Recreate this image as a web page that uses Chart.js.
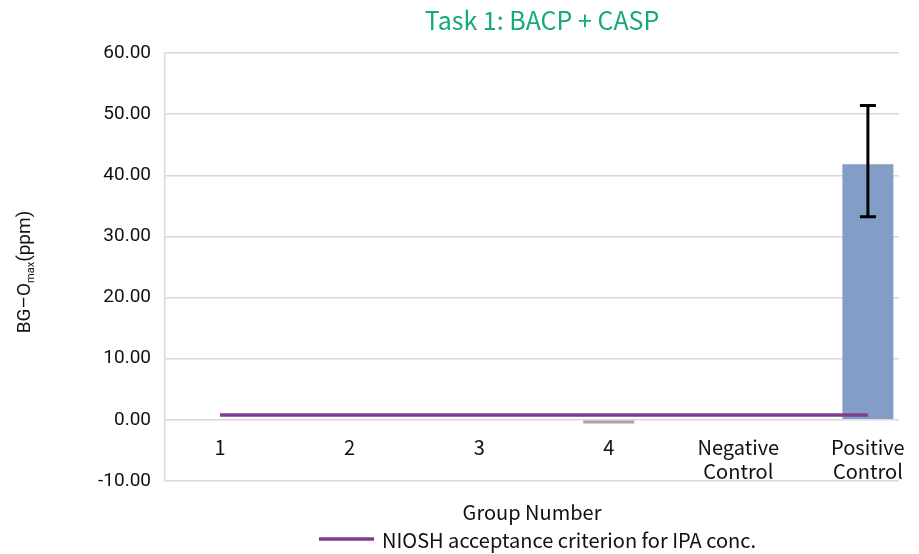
<!DOCTYPE html>
<html>
<head>
<meta charset="utf-8">
<script src="https://cdn.jsdelivr.net/npm/chart.js@4.4.1/dist/chart.umd.min.js"></script>
<style>
  html, body { margin: 0; padding: 0; background: #fff; overflow: hidden; }
  #wrap { width: 919px; height: 554px; }
</style>
</head>
<body>
<div id="wrap"><canvas id="task-chart"></canvas></div>
<script>
// data
const groupLabels = ['1', '2', '3', '4', ['Negative', 'Control'], ['Positive', 'Control']];
const groupX = [1, 2, 3, 4, 5, 6];
const meanValues = [0, 0, 0, -0.6, 0, 41.8];
const errorPlus = [0, 0, 0, 0, 0, 9.6];
const errorMinus = [0, 0, 0, 0, 0, 8.6];
const nioshLimit = [0.8, 0.8, 0.8, 0.8, 0.8, 0.8];
const yTicks = [-10, 0, 10, 20, 30, 40, 50, 60];

const PURPLE = '#7e3e90';
const GREEN = '#15aa7a';
const GRID = '#d9d9d9';
const LABEL_FONT = '"Noto Sans CJK KR", "Noto Sans", sans-serif';

// draws the error bars on top of the bars
const errorBars = {
  id: 'errorBars',
  afterDatasetsDraw(chart) {
    const { ctx, scales: { x, y } } = chart;
    ctx.save();
    ctx.strokeStyle = '#000';
    ctx.lineWidth = 3;
    groupX.forEach((gx, i) => {
      if (!errorPlus[i] && !errorMinus[i]) return;
      const px = x.getPixelForValue(gx);
      const top = y.getPixelForValue(meanValues[i] + errorPlus[i]);
      const bot = y.getPixelForValue(meanValues[i] - errorMinus[i]);
      ctx.beginPath();
      ctx.moveTo(px, top); ctx.lineTo(px, bot);
      ctx.moveTo(px - 8, top); ctx.lineTo(px + 8, top);
      ctx.moveTo(px - 8, bot); ctx.lineTo(px + 8, bot);
      ctx.stroke();
    });
    ctx.restore();
  }
};

// title, axis titles and legend (the y title needs a subscript)
const chartText = {
  id: 'chartText',
  afterDraw(chart) {
    const { ctx, chartArea } = chart;
    const midX = (chartArea.left + chartArea.right) / 2;
    ctx.save();
    ctx.textBaseline = 'middle';
    ctx.textAlign = 'center';

    ctx.fillStyle = GREEN;
    ctx.font = '25px ' + LABEL_FONT;
    ctx.fillText('Task 1: BACP + CASP', 542, 20);

    ctx.fillStyle = '#111';
    ctx.font = '20px ' + LABEL_FONT;
    ctx.fillText('Group Number', midX, 512);

    // legend
    ctx.strokeStyle = PURPLE;
    ctx.lineWidth = 3.5;
    ctx.beginPath();
    ctx.moveTo(319, 539); ctx.lineTo(374, 539);
    ctx.stroke();
    ctx.textAlign = 'left';
    ctx.fillText('NIOSH acceptance criterion for IPA conc.', 382, 540);

    // y axis title
    ctx.translate(23, 272);
    ctx.rotate(-Math.PI / 2);
    const big = '19px Roboto, sans-serif';
    const small = '11px Roboto, sans-serif';
    ctx.font = big; const w1 = ctx.measureText('BG–O').width;
    ctx.font = small; const w2 = ctx.measureText('max').width;
    ctx.font = big; const w3 = ctx.measureText('(ppm)').width;
    let sx = -(w1 + w2 + w3) / 2;
    ctx.textBaseline = 'alphabetic';
    ctx.font = big; ctx.fillText('BG–O', sx, 7); sx += w1;
    ctx.font = small; ctx.fillText('max', sx, 11); sx += w2;
    ctx.font = big; ctx.fillText('(ppm)', sx, 7);
    ctx.restore();
  }
};

new Chart(document.getElementById('task-chart'), {
  type: 'bar',
  data: {
    datasets: [{
      label: 'BG-O max',
      data: groupX.map((x, i) => ({ x, y: meanValues[i] })),
      backgroundColor: ['#839ec6', '#839ec6', '#839ec6', '#a5a5a5', '#839ec6', '#839ec6'],
      barThickness: 51,
      inflateAmount: 0,
      order: 2
    }, {
      label: 'NIOSH acceptance criterion for IPA conc.',
      type: 'line',
      data: groupX.map((x, i) => ({ x, y: nioshLimit[i] })),
      borderColor: PURPLE,
      borderWidth: 3.5,
      pointRadius: 0,
      order: 1
    }]
  },
  options: {
    responsive: true,
    maintainAspectRatio: false,
    animation: false,
    layout: { padding: { left: 0, top: 53, right: 20, bottom: 73 } },
    plugins: { legend: { display: false }, title: { display: false }, tooltip: { enabled: false } },
    scales: {
      x: {
        type: 'linear',
        position: { y: 0 },
        offset: false,
        min: 0.575,
        max: 6.24,
        grid: { display: false },
        border: { display: false },
        afterBuildTicks: (scale) => { scale.ticks = groupX.map(v => ({ value: v })); },
        ticks: {
          autoSkip: false,
          maxRotation: 0,
          padding: 8,
          color: '#111',
          font: { family: LABEL_FONT, size: 20 },
          callback: (v) => groupLabels[groupX.indexOf(v)]
        }
      },
      y: {
        min: -10,
        max: 60,
        afterFit: (scale) => { scale.width = 165; },
        afterBuildTicks: (scale) => { scale.ticks = yTicks.map(v => ({ value: v })); },
        grid: { color: GRID, lineWidth: 1.5, drawTicks: false },
        border: { color: GRID, width: 1.5 },
        ticks: {
          padding: 14,
          color: '#111',
          font: { family: 'Roboto, sans-serif', size: 19 },
          callback: (v) => v.toFixed(2)
        }
      }
    }
  },
  plugins: [errorBars, chartText]
});
</script>
</body>
</html>
